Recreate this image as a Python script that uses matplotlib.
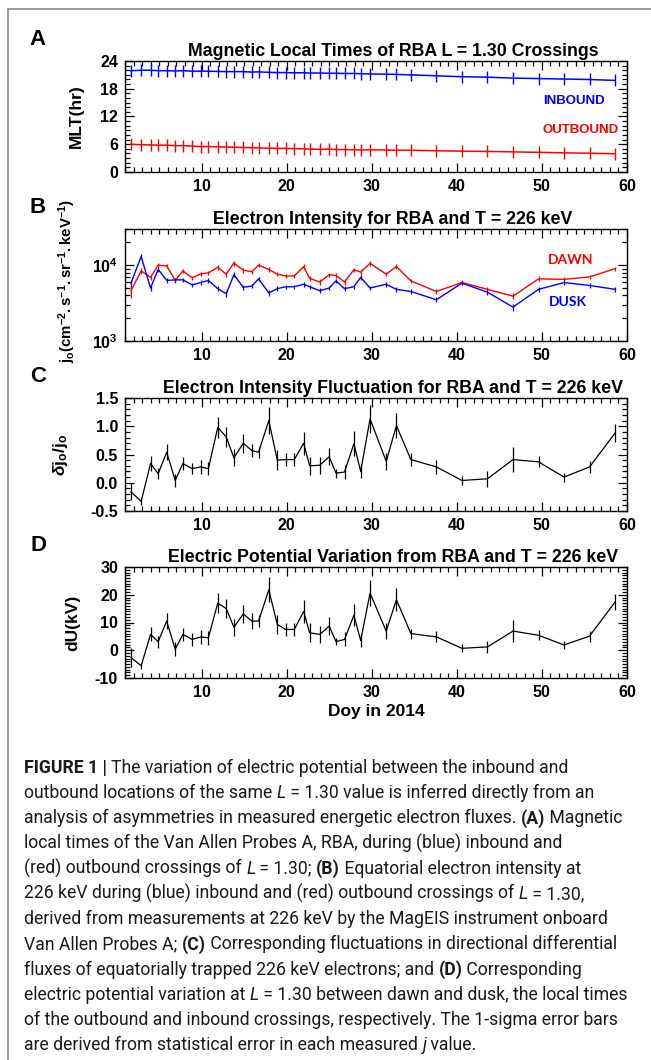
import math
import matplotlib
matplotlib.use('Agg')
import matplotlib.pyplot as plt
from matplotlib.ticker import MultipleLocator, LogLocator, NullFormatter, FuncFormatter
from matplotlib.lines import Line2D
from matplotlib.font_manager import FontProperties

plt.rcParams['font.family'] = ['Liberation Sans', 'DejaVu Sans']
plt.rcParams['font.weight'] = 'bold'
plt.rcParams['axes.labelweight'] = 'bold'
plt.rcParams['axes.unicode_minus'] = False
plt.rcParams['mathtext.fontset'] = 'custom'
plt.rcParams['mathtext.rm'] = 'Liberation Sans'
plt.rcParams['mathtext.bf'] = 'Liberation Sans:bold'
plt.rcParams['mathtext.it'] = 'Liberation Sans:italic'

W, H = 651, 1060

# day of year of each L = 1.30 crossing pair
days = [1.7, 2.9, 4.0, 4.9, 5.9, 6.9, 7.8, 8.9, 9.9, 10.8,
        11.9, 12.9, 13.8, 14.9, 15.9, 16.7, 17.9, 18.9, 19.9, 20.9,
        22.0, 22.7, 23.9, 25.0, 25.8, 26.8, 27.9, 28.7, 29.8, 31.7,
        32.9, 34.6, 37.6, 40.6, 43.6, 46.6, 49.6, 52.6, 55.6, 58.6]

# panel A: MLT (hr)
mlt_in = [21.9, 22.0, 22.0, 21.9, 21.9, 21.85, 21.9, 21.8, 21.8, 21.8,
          21.75, 21.7, 21.7, 21.7, 21.6, 21.65, 21.55, 21.5, 21.5, 21.45,
          21.45, 21.4, 21.4, 21.35, 21.35, 21.3, 21.3, 21.25, 21.2, 21.15,
          21.1, 21.0, 20.8, 20.6, 20.5, 20.3, 20.2, 20.1, 20.0, 19.8]
mlt_out = [6.0, 5.9, 5.85, 5.8, 5.8, 5.7, 5.7, 5.6, 5.5, 5.5,
           5.45, 5.4, 5.35, 5.3, 5.25, 5.2, 5.15, 5.1, 5.1, 5.05,
           5.0, 4.95, 4.9, 4.95, 4.85, 4.85, 4.8, 4.75, 4.8, 4.75,
           4.7, 4.7, 4.6, 4.5, 4.45, 4.35, 4.25, 4.15, 4.05, 3.95]

# panel B: electron intensity
j_dawn = [4.6e3, 8.4e3, 6.9e3, 1.0e4, 9.8e3, 6.3e3, 8.4e3, 6.8e3, 7.7e3, 7.9e3,
          9.4e3, 7.6e3, 1.07e4, 8.6e3, 8.2e3, 1.0e4, 8.8e3, 7.6e3, 7.2e3, 7.2e3,
          9.6e3, 6.7e3, 6.0e3, 7.5e3, 7.3e3, 6.0e3, 8.7e3, 8.1e3, 1.06e4, 7.6e3,
          9.6e3, 6.2e3, 4.5e3, 5.9e3, 4.8e3, 3.9e3, 6.6e3, 6.5e3, 7.0e3, 9.0e3]
j_dusk = [5.8e3, 1.3e4, 5.0e3, 8.8e3, 6.3e3, 6.4e3, 6.4e3, 5.5e3, 5.9e3, 6.3e3,
          4.9e3, 4.2e3, 7.5e3, 5.1e3, 5.3e3, 6.6e3, 4.3e3, 4.9e3, 5.2e3, 5.2e3,
          5.6e3, 5.2e3, 4.6e3, 5.0e3, 6.2e3, 4.9e3, 5.2e3, 6.9e3, 5.0e3, 5.6e3,
          4.8e3, 4.5e3, 3.5e3, 5.8e3, 4.4e3, 2.8e3, 4.8e3, 5.9e3, 5.4e3, 4.8e3]
j_dawn_err = [900, 700, 500, 700, 700, 500, 600, 500, 500, 500,
              700, 600, 800, 600, 500, 600, 600, 500, 500, 500,
              700, 500, 500, 500, 500, 500, 600, 600, 700, 500,
              700, 400, 350, 400, 400, 350, 500, 450, 500, 600]
j_dusk_err = [600, 1000, 400, 600, 400, 400, 400, 350, 400, 400,
              350, 350, 600, 350, 350, 450, 350, 350, 350, 350,
              400, 350, 350, 350, 400, 350, 350, 500, 350, 400,
              350, 300, 250, 400, 350, 300, 350, 400, 350, 350]

# panel C: intensity fluctuation
dj = [-0.16, -0.33, 0.34, 0.16, 0.54, 0.04, 0.34, 0.25, 0.28, 0.25,
      0.98, 0.81, 0.44, 0.70, 0.57, 0.54, 1.10, 0.40, 0.41, 0.41,
      0.70, 0.30, 0.31, 0.46, 0.17, 0.19, 0.69, 0.20, 1.13, 0.38,
      1.01, 0.41, 0.28, 0.04, 0.07, 0.41, 0.37, 0.10, 0.28, 0.88]
dj_err = [0.15, 0.06, 0.14, 0.10, 0.14, 0.12, 0.12, 0.10, 0.12, 0.12,
          0.18, 0.18, 0.15, 0.17, 0.12, 0.10, 0.24, 0.18, 0.12, 0.12,
          0.20, 0.16, 0.15, 0.15, 0.08, 0.12, 0.22, 0.12, 0.25, 0.15,
          0.22, 0.12, 0.12, 0.08, 0.14, 0.22, 0.10, 0.08, 0.10, 0.16]

# panel D: electric potential variation (kV)
du = [-2.6, -5.6, 5.7, 3.1, 10.5, 0.4, 5.7, 3.9, 4.8, 4.5,
      17.0, 15.0, 8.3, 13.1, 10.5, 10.5, 21.8, 9.3, 7.5, 7.5,
      14.0, 6.3, 5.7, 8.7, 3.1, 3.9, 12.6, 3.5, 20.6, 6.9,
      18.2, 6.0, 4.8, 0.7, 1.2, 6.9, 5.4, 1.9, 5.1, 17.4]
du_err = [3.5, 1.0, 2.5, 2.2, 3.0, 2.5, 2.3, 2.2, 2.5, 2.5,
          3.5, 3.5, 3.0, 3.2, 2.8, 2.2, 4.5, 3.5, 2.5, 2.5,
          4.0, 3.5, 3.2, 3.2, 1.2, 2.5, 4.0, 2.5, 4.8, 2.8,
          4.2, 1.8, 2.0, 1.5, 2.2, 4.0, 1.8, 1.6, 2.0, 3.0]

titles = ['Magnetic Local Times of RBA L = 1.30 Crossings',
          'Electron Intensity for RBA and T = 226 keV',
          'Electron Intensity Fluctuation for RBA and T = 226 keV',
          'Electric Potential Variation from RBA and T = 226 keV']
letters = ['A', 'B', 'C', 'D']


def px_axes(top, bottom, left=125, right=627):
    return [left / W, 1 - bottom / H, (right - left) / W, (bottom - top) / H]


fig = plt.figure(figsize=(W / 100, H / 100), dpi=100)

tops = [61, 229, 398, 567]
bottoms = [172, 341, 511, 678]
axs = [fig.add_axes(px_axes(t, b)) for t, b in zip(tops, bottoms)]

for ax in axs:
    ax.set_xlim(1, 60)
    ax.xaxis.set_major_locator(MultipleLocator(10))
    ax.xaxis.set_minor_locator(MultipleLocator(1))
    ax.tick_params(which='both', direction='in', top=True, right=True,
                   labelsize=11.5, width=0.9, pad=5)
    ax.tick_params(which='major', length=6.5)
    ax.tick_params(which='minor', length=3.5)
    for sp in ax.spines.values():
        sp.set_linewidth(1.0)

# A
ax = axs[0]
ax.plot(days, mlt_in, color='#0000ff', lw=1.1, marker='|', ms=9, mew=1.0)
ax.plot(days, mlt_out, color='#ff0000', lw=1.1, marker='|', ms=9, mew=1.0)
ax.set_ylim(0, 24)
ax.yaxis.set_major_locator(MultipleLocator(6))
ax.yaxis.set_minor_locator(MultipleLocator(1))
ax.set_ylabel('MLT(hr)', fontsize=12.5)
ax.yaxis.set_label_coords(-0.082, 0.5)
ax.text(50.1, 15.3, 'INBOUND', color='#0000ff', fontsize=9.5, va='center')
ax.text(50.1, 9.1, 'OUTBOUND', color='#ff0000', fontsize=9.5, va='center')

# B
ax = axs[1]
ax.set_yscale('log')
ax.errorbar(days, j_dawn, yerr=j_dawn_err, color='#ff0000', lw=1.0, elinewidth=0.9)
ax.errorbar(days, j_dusk, yerr=j_dusk_err, color='#0000ff', lw=1.0, elinewidth=0.9)
ax.set_ylim(1e3, 3e4)
ax.yaxis.set_major_locator(LogLocator(base=10))
ax.yaxis.set_minor_locator(LogLocator(base=10, subs=range(2, 10)))
ax.yaxis.set_minor_formatter(NullFormatter())
ax.yaxis.set_major_formatter(FuncFormatter(lambda v, p: r'$\mathbf{10^{%d}}$' % round(math.log10(v))))
ax.set_ylabel(r'$\mathbf{j_o(cm^{-2}.s^{-1}.sr^{-1}.keV^{-1})}$', fontsize=10.8)
ax.yaxis.set_label_coords(-0.094, 0.54)
ax.text(50.7, 1.17e4, 'DAWN', color='#ff0000', fontsize=10, va='center',
        family=['Lato', 'DejaVu Sans'])
ax.text(50.8, 3.25e3, 'DUSK', color='#0000ff', fontsize=10, va='center',
        family=['Lato', 'DejaVu Sans'])

# C
ax = axs[2]
ax.errorbar(days, dj, yerr=dj_err, color='black', lw=0.9, elinewidth=0.9)
ax.set_ylim(-0.5, 1.5)
ax.yaxis.set_major_locator(MultipleLocator(0.5))
ax.yaxis.set_minor_locator(MultipleLocator(0.1))
ax.yaxis.set_major_formatter(FuncFormatter(lambda v, p: '%.1f' % v))
ax.set_ylabel(r'$\delta\mathbf{j_o/j_o}$', fontsize=12.5)
ax.yaxis.set_label_coords(-0.11, 0.5)

# D
ax = axs[3]
ax.errorbar(days, du, yerr=du_err, color='black', lw=0.9, elinewidth=0.9)
ax.set_ylim(-10, 30)
ax.yaxis.set_major_locator(MultipleLocator(10))
ax.yaxis.set_minor_locator(MultipleLocator(1))
ax.set_ylabel('dU(kV)', fontsize=12.5)
ax.yaxis.set_label_coords(-0.09, 0.5)
ax.set_xlabel('Doy in 2014', fontsize=12.5, labelpad=3)

for t, title, letter in zip(tops, titles, letters):
    fig.text(393 / W, 1 - (t - 5) / H, title, ha='center', va='baseline', fontsize=12.8)
    fig.text(38 / W, 1 - (t - 16) / H, letter, ha='center', va='baseline', fontsize=16)

# frame of the figure panel
fig.add_artist(Line2D([8 / W, 8 / W], [0, 1 - 9 / H], color='#8a8a8a', lw=1.2,
                      transform=fig.transFigure))
fig.add_artist(Line2D([8 / W, 1], [1 - 9 / H, 1 - 9 / H], color='#8a8a8a', lw=1.2,
                      transform=fig.transFigure))

# caption, drawn run by run
caption = [
    [('FIGURE 1 | ', 'b'), ('The variation of electric potential between the inbound and', 'n')],
    [('outbound locations of the same ', 'n'), ('L', 'i'), (' = 1.30 value is inferred directly from an', 'n')],
    [('analysis of asymmetries in measured energetic electron fluxes. ', 'n'), ('(A)', 'b'), (' Magnetic', 'n')],
    [('local times of the Van Allen Probes A, RBA, during (blue) inbound and', 'n')],
    [('(red) outbound crossings of ', 'n'), ('L', 'i'), (' = 1.30; ', 'n'), ('(B)', 'b'),
     (' Equatorial electron intensity at', 'n')],
    [('226 keV during (blue) inbound and (red) outbound crossings of ', 'n'), ('L', 'i'), (' = 1.30,', 'n')],
    [('derived from measurements at 226 keV by the MagEIS instrument onboard', 'n')],
    [('Van Allen Probes A; ', 'n'), ('(C)', 'b'), (' Corresponding fluctuations in directional differential', 'n')],
    [('fluxes of equatorially trapped 226 keV electrons; and ', 'n'), ('(D)', 'b'), (' Corresponding', 'n')],
    [('electric potential variation at ', 'n'), ('L', 'i'), (' = 1.30 between dawn and dusk, the local times', 'n')],
    [('of the outbound and inbound crossings, respectively. The 1-sigma error bars', 'n')],
    [('are derived from statistical error in each measured ', 'n'), ('j', 'i'), (' value.', 'n')],
]
cap_family = ['Roboto', 'DejaVu Sans']
renderer = fig.canvas.get_renderer()


def props(style, size):
    return FontProperties(family=cap_family, size=size,
                          weight='bold' if style == 'b' else 'normal',
                          style='italic' if style == 'i' else 'normal')


def run_width(s, fp):
    w1 = renderer.get_text_width_height_descent('x' + s + 'x', fp, ismath=False)[0]
    w0 = renderer.get_text_width_height_descent('xx', fp, ismath=False)[0]
    return w1 - w0


# size the caption so its widest line spans the text block (24..627 px)
widest = max(sum(run_width(s, props(st, 12)) for s, st in line) for line in caption)
cap_size = 12 * 602 / widest

for k, line in enumerate(caption):
    x = 24
    yb = 773 + k * 25.2
    for s, st in line:
        fp = props(st, cap_size)
        fig.text(x / W, 1 - yb / H, s, fontproperties=fp, va='baseline', ha='left', color='#1a1a1a')
        x += run_width(s, fp)

fig.savefig('out.png', dpi=100)
